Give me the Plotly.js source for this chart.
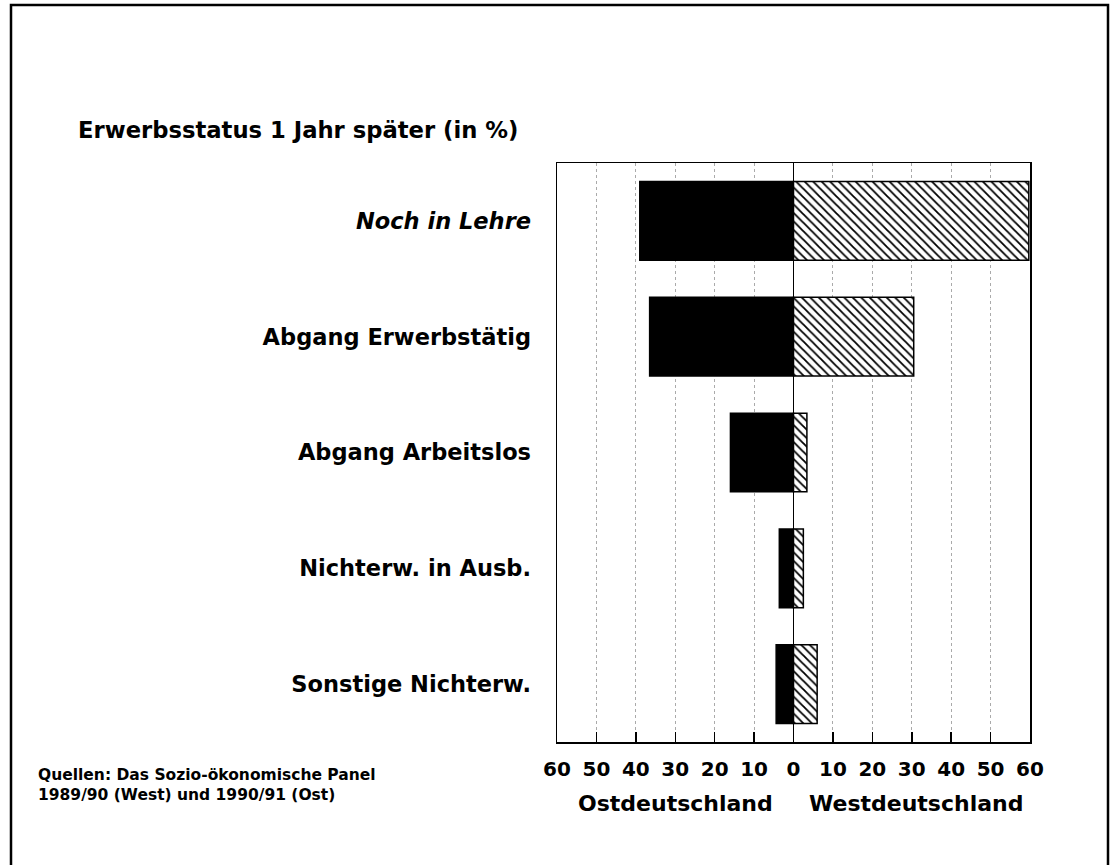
<!DOCTYPE html>
<html>
<head>
<meta charset="utf-8">
<script src="https://cdn.plot.ly/plotly-3.0.1.min.js"></script>
<style>html,body{margin:0;padding:0;background:#fff;}#chart{width:1111px;height:865px;}</style>
</head>
<body>
<div id="chart"></div>
<script>
// Data
const categories = ["Noch in Lehre", "Abgang Erwerbstätig", "Abgang Arbeitslos", "Nichterw. in Ausb.", "Sonstige Nichterw."];
const ostValues = [39, 36.5, 16, 3.6, 4.4];   // Ostdeutschland, %
const westValues = [59.7, 30.5, 3.4, 2.5, 6]; // Westdeutschland, %
const tickValues = [-60, -50, -40, -30, -20, -10, 0, 10, 20, 30, 40, 50, 60];
const tickLabels = ["60", "50", "40", "30", "20", "10", "0", "10", "20", "30", "40", "50", "60"];
const categoryLabels = ["<i>Noch in Lehre</i>", "Abgang Erwerbstätig", "Abgang Arbeitslos", "Nichterw. in Ausb.", "Sonstige Nichterw."];

const FONT = "DejaVu Sans, sans-serif";

const traces = [
  {
    type: "bar", orientation: "h", name: "Ostdeutschland",
    y: categories, x: ostValues.map(v => -v),
    marker: {color: "#000", line: {color: "#000", width: 1.5}},
    hoverinfo: "skip"
  },
  {
    type: "bar", orientation: "h", name: "Westdeutschland",
    y: categories, x: westValues,
    marker: {color: "#fff", line: {color: "#000", width: 1.5},
      pattern: {shape: "\\", fgcolor: "#000", bgcolor: "#fff", size: 6, solidity: 0.3}},
    hoverinfo: "skip"
  }
];

const layout = {
  width: 1111, height: 865,
  paper_bgcolor: "#fff", plot_bgcolor: "#fff",
  showlegend: false,
  barmode: "relative",
  bargap: 0.32,
  margin: {l: 557, r: 81, t: 163, b: 123, pad: 0},
  font: {family: FONT, color: "#000", weight: 700},
  xaxis: {
    range: [-60, 60], tickvals: tickValues, ticktext: tickLabels,
    tickfont: {size: 20, family: FONT, weight: 700},
    ticks: "inside", ticklen: 10, tickwidth: 1.5, tickcolor: "#000",
    showline: true, linecolor: "#000", linewidth: 1.5, mirror: true,
    showgrid: true, gridcolor: "#aaa", griddash: "dot", gridwidth: 1,
    zeroline: true, zerolinecolor: "#000", zerolinewidth: 1.5,
    ticklabelstandoff: 8, fixedrange: true
  },
  yaxis: {
    type: "category", categoryorder: "array", categoryarray: categories,
    range: [4.5, -0.5],
    tickvals: categories, ticktext: categoryLabels,
    tickfont: {size: 22.5, family: FONT, weight: 700},
    ticks: "", showline: true, linecolor: "#000", linewidth: 1.5, mirror: true,
    showgrid: false, ticklabelstandoff: 20, fixedrange: true
  },
  annotations: [
    {text: "Erwerbsstatus 1 Jahr später (in %)", xref: "paper", yref: "paper",
     x: (76 - 557) / 473, y: (742 - 130) / 579, xanchor: "left", yanchor: "middle",
     showarrow: false, font: {size: 22.7, family: FONT, weight: 700}},
    {text: "Ostdeutschland", xref: "x", yref: "paper", x: -30, y: (742 - 803) / 579,
     xanchor: "center", yanchor: "middle", showarrow: false, font: {size: 22, family: FONT, weight: 700}},
    {text: "Westdeutschland", xref: "x", yref: "paper", x: 31, y: (742 - 803) / 579,
     xanchor: "center", yanchor: "middle", showarrow: false, font: {size: 22, family: FONT, weight: 700}},
    {text: "Quellen: Das Sozio-ökonomische Panel<br>1989/90 (West) und 1990/91 (Ost)", xref: "paper", yref: "paper",
     x: (36 - 557) / 473, y: (742 - 785) / 579, xanchor: "left", yanchor: "middle", align: "left",
     showarrow: false, font: {size: 15.5, family: FONT, weight: 700}}
  ],
  shapes: [
    {type: "path", xref: "paper", yref: "paper",
     path: "M " + ((11 - 557) / 473) + "," + ((742 - 868) / 579) +
           " L " + ((11 - 557) / 473) + "," + ((742 - 5) / 579) +
           " L " + ((1108 - 557) / 473) + "," + ((742 - 5) / 579) +
           " L " + ((1108 - 557) / 473) + "," + ((742 - 868) / 579),
     line: {color: "#000", width: 2.5}}
  ]
};

Plotly.newPlot("chart", traces, layout, {staticPlot: true, displayModeBar: false});
</script>
</body>
</html>
